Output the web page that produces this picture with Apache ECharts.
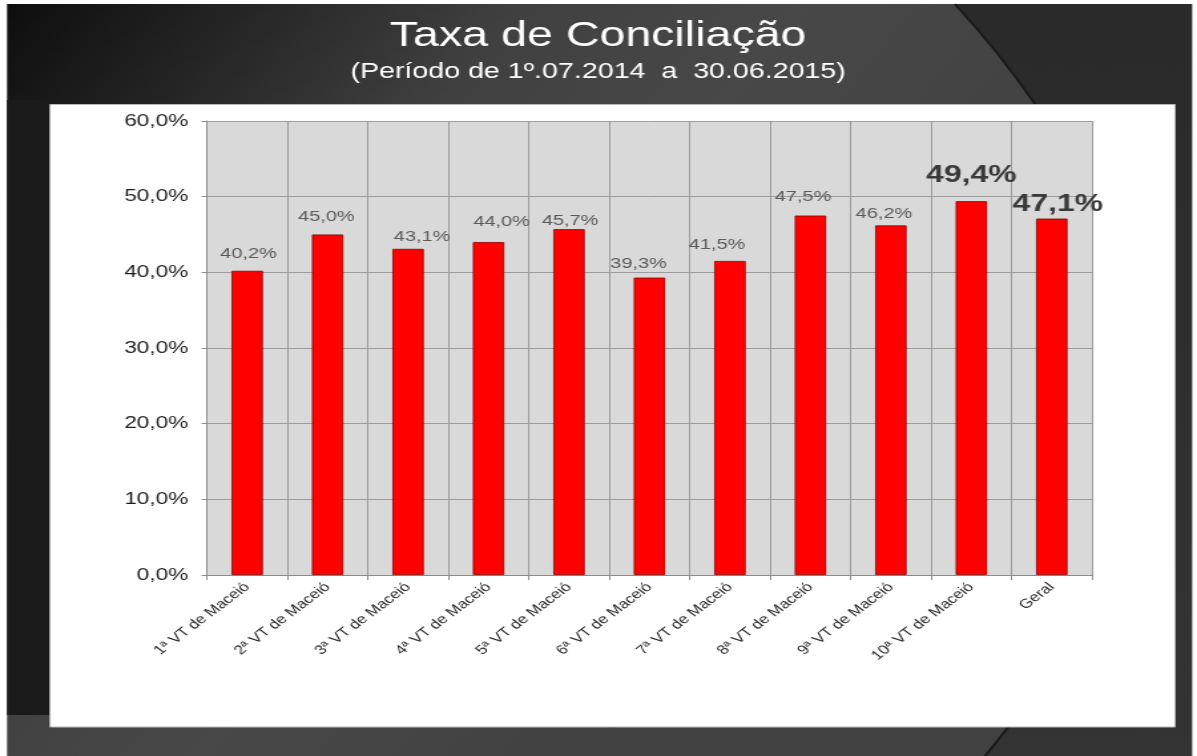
<!DOCTYPE html>
<html>
<head>
<meta charset="utf-8">
<script src="https://cdn.jsdelivr.net/npm/echarts@6/dist/echarts.min.js"></script>
<style>
  html, body { margin: 0; padding: 0; background: #ffffff; overflow: hidden; }
  #c { width: 900px; height: 756px; transform: scaleX(1.33); transform-origin: 0 0; }
</style>
</head>
<body>
<div id="c"></div>
<script>
// ---- data ----
const titleText = 'Taxa de Conciliação';
const subtitleText = '(Período de 1º.07.2014  a  30.06.2015)';
const categories = ['1ª VT de Maceió', '2ª VT de Maceió', '3ª VT de Maceió', '4ª VT de Maceió',
  '5ª VT de Maceió', '6ª VT de Maceió', '7ª VT de Maceió', '8ª VT de Maceió',
  '9ª VT de Maceió', '10ª VT de Maceió', 'Geral'];
const values = [40.2, 45.0, 43.1, 44.0, 45.7, 39.3, 41.5, 47.5, 46.2, 49.4, 47.1];
const yMin = 0, yMax = 60, yStep = 10;
const highlighted = [9, 10];  // labels drawn large and bold

// ---- label nudges (styling only, in design px) ----
const labelNudge = [[1, -9.5], [-1, -10.5], [10.5, -4.5], [9.8, -12.5], [0.8, -0.5], [-8.3, -6.5],
  [-9.8, -8.5], [-5.6, -11.5], [-5.3, -4.5], [0, -14], [4.5, -2]];

const FONT = 'Liberation Sans, Arial, Helvetica, sans-serif';
const fmt = v => v.toFixed(1).replace('.', ',') + '%';

// decorative background curve (quadratic) sampled into a polygon
const curve = { x1: 718, y1: 4, cx: 977, cy: 380, x2: 740.6, y2: 756 };
const darkPts = [];
for (let k = 0; k <= 40; k++) {
  const t = k / 40, u = 1 - t;
  darkPts.push([u * u * curve.x1 + 2 * u * t * curve.cx + t * t * curve.x2,
                u * u * curve.y1 + 2 * u * t * curve.cy + t * t * curve.y2]);
}
darkPts.push([896.2, 756], [896.2, 4]);

const chart = echarts.init(document.getElementById('c'), null, { width: 900, height: 756, renderer: 'canvas' });

const seriesData = values.map((v, i) => {
  const big = highlighted.indexOf(i) >= 0;
  return {
    value: v,
    label: {
      fontSize: big ? 24 : 15,
      fontWeight: big ? 'bold' : 'normal',
      color: big ? '#3a3a3a' : '#5a5a5a',
      offset: labelNudge[i]
    }
  };
});

chart.setOption({
  backgroundColor: '#ffffff',
  animation: false,
  title: [
    { text: titleText, left: 444.7, top: 14, textAlign: 'center',
      textStyle: { fontFamily: FONT, fontSize: 35, fontWeight: 'normal', color: '#ffffff' } },
    { text: subtitleText, left: 444.7, top: 56, textAlign: 'center',
      textStyle: { fontFamily: FONT, fontSize: 21.5, fontWeight: 'normal', color: '#ffffff' } }
  ],
  graphic: [
    { type: 'rect', z: -100, silent: true,
      shape: { x: 5.3, y: 4, width: 890.9, height: 752 },
      style: { fill: { type: 'linear', x: 0, y: 0, x2: 0.7, y2: 0.5, colorStops: [
        { offset: 0, color: '#0e0e0e' }, { offset: 0.22, color: '#262626' },
        { offset: 0.45, color: '#404040' }, { offset: 0.7, color: '#484848' }, { offset: 1, color: '#424242' }] } } },
    { type: 'polygon', z: -99, silent: true,
      shape: { points: darkPts },
      style: { fill: { type: 'linear', x: 0, y: 0, x2: 0, y2: 1, colorStops: [
        { offset: 0, color: '#2a2a2a' }, { offset: 1, color: '#343434' }] } } },
    { type: 'bezierCurve', z: -98, silent: true,
      shape: { x1: curve.x1, y1: curve.y1, cpx1: curve.cx, cpy1: curve.cy, x2: curve.x2, y2: curve.y2 },
      style: { stroke: '#1a1a1a', lineWidth: 2, fill: null } },
    { type: 'rect', z: -97, silent: true,
      shape: { x: 5.3, y: 100, width: 32.3, height: 615 },
      style: { fill: '#1b1b1b' } },
    { type: 'rect', z: -96, silent: true,
      shape: { x: 37.6, y: 104.5, width: 845.9, height: 622.5 },
      style: { fill: '#ffffff', stroke: '#b8b8b8', lineWidth: 1 } }
  ],
  grid: {
    left: 155.6, right: 78.9, top: 121, bottom: 181,
    show: true, backgroundColor: '#d9d9d9', borderWidth: 0
  },
  xAxis: {
    type: 'category',
    data: categories,
    boundaryGap: true,
    axisLine: { show: true, lineStyle: { color: '#8c8c8c', width: 1 } },
    axisTick: { show: true, alignWithLabel: false, length: 5, lineStyle: { color: '#8c8c8c' } },
    splitLine: { show: true, lineStyle: { color: '#9c9c9c', width: 1 } },
    axisLabel: { rotate: 45, interval: 0, margin: 10, fontFamily: FONT, fontSize: 13, color: '#2a2a2a' }
  },
  yAxis: {
    type: 'value',
    min: yMin, max: yMax, interval: yStep,
    axisLine: { show: true, lineStyle: { color: '#8c8c8c', width: 1 } },
    axisTick: { show: true, length: 4, lineStyle: { color: '#8c8c8c' } },
    splitLine: { show: true, lineStyle: { color: '#9c9c9c', width: 1 } },
    axisLabel: { margin: 14, fontFamily: FONT, fontSize: 17, color: '#1e1e1e', formatter: v => fmt(v) }
  },
  series: [{
    type: 'bar',
    data: seriesData,
    barWidth: '39%',
    itemStyle: { color: '#ff0000', borderColor: '#8a0000', borderWidth: 0.8 },
    label: {
      show: true, position: 'top', distance: 0,
      fontFamily: FONT,
      formatter: p => fmt(p.value)
    }
  }]
});
</script>
</body>
</html>
